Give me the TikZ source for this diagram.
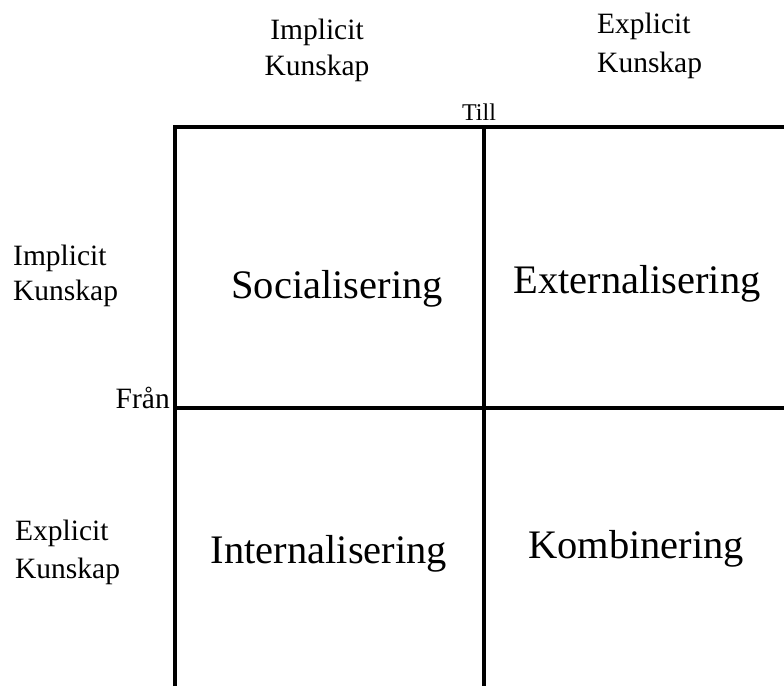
\documentclass[tikz,border=0pt]{standalone}
\usepackage{fontspec}
\setmainfont{Liberation Serif}
\begin{document}
\begin{tikzpicture}[x=1pt, y=-1pt,
  axetext/.style={font=\fontsize{29.5}{36}\selectfont, inner sep=0},
  tilltext/.style={font=\fontsize{24}{29}\selectfont, inner sep=0},
  celltext/.style={font=\fontsize{40.5}{48}\selectfont, inner sep=0},
  gridline/.style={line width=4}]

 \useasboundingbox (0,0) rectangle (784,686);

 %%%%%%%%%% Points de la grille %%%%%%%%%%
 \coordinate (0) at (175,686);
 \coordinate (1) at (175,127);
 \coordinate (2) at (784,127);
 \coordinate (3) at (484,127);
 \coordinate (4) at (484,686);
 \coordinate (5) at (175,408);
 \coordinate (6) at (784,408);

 % Lines
 \draw [gridline] (0) -- (1) -- (2) ;
 \draw [gridline] (3) -- (4) ;
 \draw [gridline] (5) -- (6) ;

 %%%%%%%%%% Axes %%%%%%%%%%
 \node [axetext, anchor=base] (topimp) at (317,39) {Implicit};
 \node [axetext, anchor=base] (topimpk) at (317,75) {Kunskap};
 \node [axetext, anchor=base west] (topexp) at (597,33) {Explicit};
 \node [axetext, anchor=base west] (topexpk) at (597,72) {Kunskap};
 \node [axetext, anchor=base west] (leftimp) at (13,265) {Implicit};
 \node [axetext, anchor=base west] (leftimpk) at (13,300) {Kunskap};
 \node [axetext, anchor=base west] (leftexp) at (15,540) {Explicit};
 \node [axetext, anchor=base west] (leftexpk) at (15,578) {Kunskap};
 \node [tilltext, anchor=base] (till) at (479,120) {Till};
 \node [axetext, anchor=base east] (fran) at (170,408) {Från};

 %%%%%%%%%% Cases %%%%%%%%%%
 \node [celltext, anchor=base] (soc) at (337,298) {Socialisering};
 \node [celltext, anchor=base] (ext) at (637,293) {Externalisering};
 \node [celltext, anchor=base] (int) at (329,563) {Internalisering};
 \node [celltext, anchor=base] (komb) at (636,558) {Kombinering};

\end{tikzpicture}
\end{document}
